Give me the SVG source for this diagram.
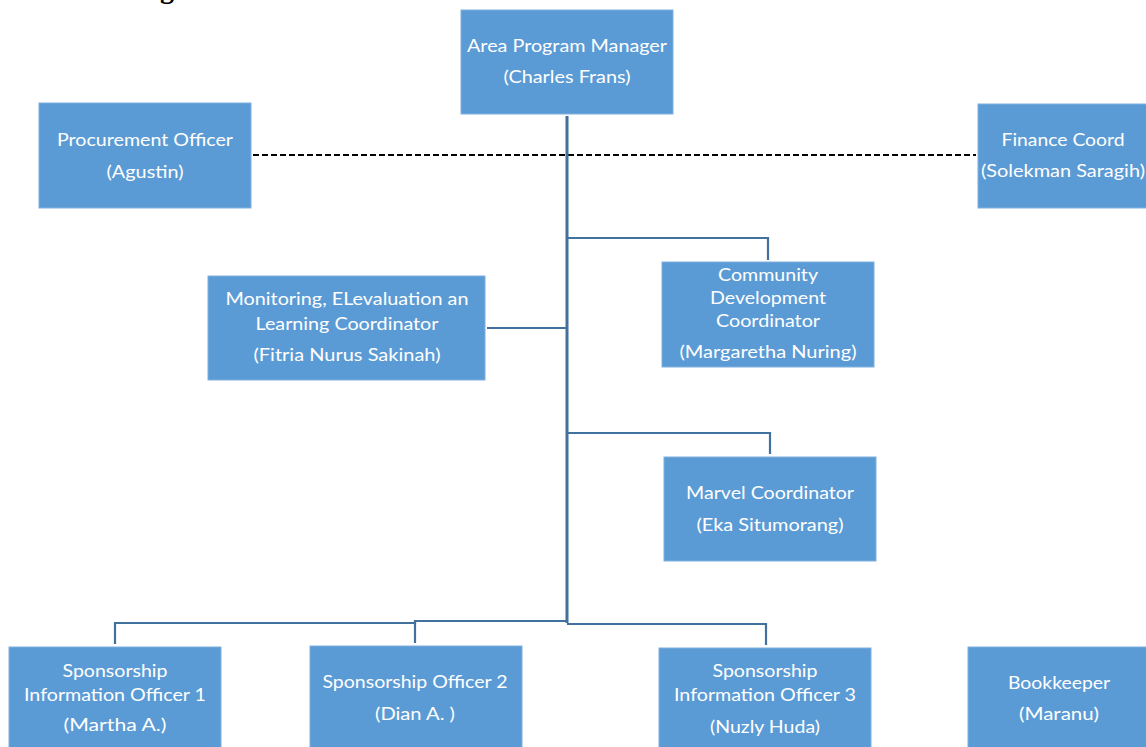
<svg xmlns="http://www.w3.org/2000/svg" width="1146" height="747" viewBox="0 0 1146 747">
<style>
.box{fill:#5B9BD5;stroke:#7FB0DE;stroke-width:1}
.t{font-family:Lato,"Open Sans","Liberation Sans",sans-serif;font-size:18px;fill:#ffffff;text-anchor:middle}
.c{fill:none;stroke:#41719C;stroke-width:2.2}
.trunk{fill:none;stroke:#41719C;stroke-width:3}
.dash{fill:none;stroke:#000;stroke-width:2;stroke-dasharray:6 3}
.hd{font-family:"Liberation Serif",serif;font-weight:bold;font-size:28px;fill:#000}
</style>
<rect width="1146" height="747" fill="#fff"/>
<text class="hd" x="160" y="-2">g</text>
<g id="connectors">
<line class="dash" x1="253" y1="155" x2="976" y2="155"/>
<path class="trunk" d="M567 116 V623"/>
<path class="c" d="M567 238 H768 V260"/>
<path class="c" d="M487 328 H567"/>
<path class="c" d="M567 433 H770 V454"/>
<path class="c" d="M115 644 V623 H415 V621 H567"/>
<path class="c" d="M415 621 V643"/>
<path class="c" d="M567 624 H766 V645"/>
</g>
<g id="area-program-manager">
<rect class="box" x="461" y="10" width="212" height="104"/>
<text class="t" x="567" y="52" textLength="200" lengthAdjust="spacingAndGlyphs">Area Program Manager</text>
<text class="t" x="567" y="83" textLength="127" lengthAdjust="spacingAndGlyphs">(Charles Frans)</text>
</g>
<g id="procurement-officer">
<rect class="box" x="39" y="103" width="212" height="105"/>
<text class="t" x="145" y="146" textLength="176" lengthAdjust="spacingAndGlyphs">Procurement Officer</text>
<text class="t" x="145" y="178" textLength="77" lengthAdjust="spacingAndGlyphs">(Agustin)</text>
</g>
<g id="finance-coord">
<rect class="box" x="978" y="104" width="172" height="104"/>
<text class="t" x="1063" y="146" textLength="123" lengthAdjust="spacingAndGlyphs">Finance Coord</text>
<text class="t" x="1063" y="177" textLength="164" lengthAdjust="spacingAndGlyphs">(Solekman Saragih)</text>
</g>
<g id="community-development-coordinator">
<rect class="box" x="662" y="262" width="212" height="105"/>
<text class="t" x="768" y="281" textLength="100" lengthAdjust="spacingAndGlyphs">Community</text>
<text class="t" x="768" y="304" textLength="116" lengthAdjust="spacingAndGlyphs">Development</text>
<text class="t" x="768" y="327" textLength="104" lengthAdjust="spacingAndGlyphs">Coordinator</text>
<text class="t" x="768" y="358" textLength="177" lengthAdjust="spacingAndGlyphs">(Margaretha Nuring)</text>
</g>
<g id="melc">
<rect class="box" x="208" y="276" width="277" height="104"/>
<text class="t" x="347" y="305" textLength="243" lengthAdjust="spacingAndGlyphs">Monitoring, ELevaluation an</text>
<text class="t" x="347" y="330" textLength="183" lengthAdjust="spacingAndGlyphs">Learning Coordinator</text>
<text class="t" x="347" y="361" textLength="187" lengthAdjust="spacingAndGlyphs">(Fitria Nurus Sakinah)</text>
</g>
<g id="marvel-coordinator">
<rect class="box" x="664" y="457" width="212" height="104"/>
<text class="t" x="770" y="499" textLength="168" lengthAdjust="spacingAndGlyphs">Marvel Coordinator</text>
<text class="t" x="770" y="531" textLength="147" lengthAdjust="spacingAndGlyphs">(Eka Situmorang)</text>
</g>
<g id="sio1">
<rect class="box" x="9" y="647" width="212" height="104"/>
<text class="t" x="115" y="677" textLength="105" lengthAdjust="spacingAndGlyphs">Sponsorship</text>
<text class="t" x="115" y="701" textLength="182" lengthAdjust="spacingAndGlyphs">Information Officer 1</text>
<text class="t" x="115" y="731" textLength="103" lengthAdjust="spacingAndGlyphs">(Martha A.)</text>
</g>
<g id="so2">
<rect class="box" x="310" y="646" width="212" height="105"/>
<text class="t" x="415" y="688" textLength="185" lengthAdjust="spacingAndGlyphs">Sponsorship Officer 2</text>
<text class="t" x="415" y="720" textLength="80" lengthAdjust="spacingAndGlyphs">(Dian A. )</text>
</g>
<g id="sio3">
<rect class="box" x="659" y="648" width="212" height="103"/>
<text class="t" x="765" y="677" textLength="105" lengthAdjust="spacingAndGlyphs">Sponsorship</text>
<text class="t" x="765" y="701" textLength="182" lengthAdjust="spacingAndGlyphs">Information Officer 3</text>
<text class="t" x="765" y="733" textLength="110" lengthAdjust="spacingAndGlyphs">(Nuzly Huda)</text>
</g>
<g id="bookkeeper">
<rect class="box" x="968" y="647" width="182" height="104"/>
<text class="t" x="1059" y="689" textLength="102" lengthAdjust="spacingAndGlyphs">Bookkeeper</text>
<text class="t" x="1059" y="720" textLength="80" lengthAdjust="spacingAndGlyphs">(Maranu)</text>
</g>
</svg>
